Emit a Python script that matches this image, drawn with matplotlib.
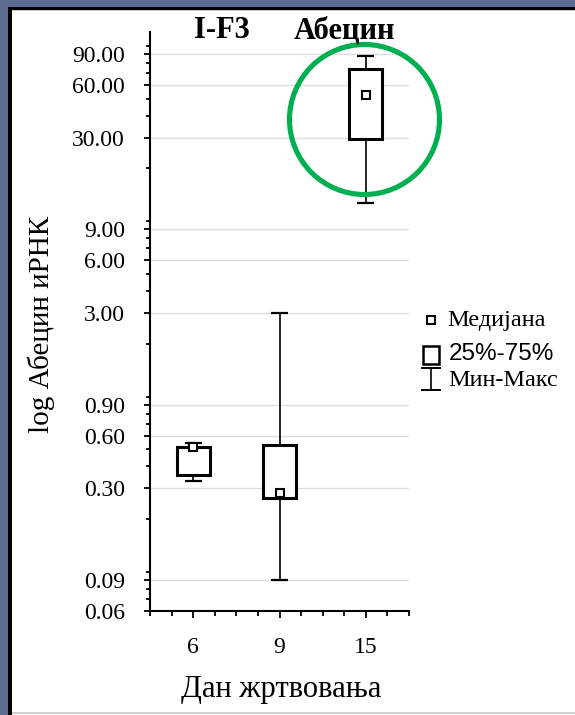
import matplotlib
matplotlib.use("Agg")
import matplotlib.pyplot as plt
from matplotlib.patches import Rectangle
from matplotlib.lines import Line2D
from matplotlib.ticker import FixedLocator, NullFormatter

# ---- data -------------------------------------------------------------
days = ["6", "9", "15"]
q_min = [0.33, 0.09, 12.7]
q25 = [0.36, 0.266, 29.4]
median = [0.515, 0.283, 52.5]
q75 = [0.52, 0.527, 74.0]
q_max = [0.546, 3.0, 88.0]

y_major = [0.06, 0.09, 0.3, 0.6, 0.9, 3, 6, 9, 30, 60, 90]
y_major_labels = ["0.06", "0.09", "0.30", "0.60", "0.90", "3.00", "6.00",
                  "9.00", "30.00", "60.00", "90.00"]
y_minor = [0.07, 0.08, 0.1, 0.2, 0.4, 0.5, 0.7, 0.8, 1, 2, 4, 5, 7, 8,
           10, 20, 40, 50, 70, 80, 100]

highlight_day = "15"
highlight_value = 38.5

# ---- figure -----------------------------------------------------------
W, H = 575, 715
DPI = 100
fig = plt.figure(figsize=(W / DPI, H / DPI), dpi=DPI)
fig.patch.set_facecolor("white")

SERIF = ["Liberation Serif", "DejaVu Serif"]
SANS = ["Liberation Sans", "DejaVu Sans"]
plt.rcParams["font.family"] = SERIF


def fx(x):
    return x / W


def fy(y):
    return 1 - y / H


# slide frame around the chart
frame = [
    ((0, 0), 8, H, "#5b6b91"),
    ((0, 0), W, 7, "#5b6b91"),
    ((8, 7), 4, H - 7, "black"),
    ((8, 7), W - 8, 3, "black"),
    ((12, 10), W - 12, 1.2, "#c8c8c8"),
    ((12, 712), W - 12, 1.5, "#d0d0d0"),
]
for (x0, y0), w, h, c in frame:
    fig.add_artist(Rectangle((fx(x0), fy(y0 + h)), w / W, h / H,
                             transform=fig.transFigure, facecolor=c,
                             edgecolor="none", zorder=0))

left, right, top, bottom = 150, 409, 32, 611
ax = fig.add_axes([fx(left), fy(bottom), (right - left) / W, (bottom - top) / H])
ax.set_facecolor("none")

ax.set_yscale("log")
ax.set_ylim(0.06, 120)
ax.set_xlim(-0.5, 2.5)

pos = list(range(len(days)))

# grid at labelled values
for v in y_major:
    ax.axhline(v, color="#dedede", lw=1.0, zorder=0)

box_w = 0.38
cap_w = 0.2
for i in pos:
    ax.bar(i, q75[i] - q25[i], bottom=q25[i], width=box_w, facecolor="white",
           edgecolor="black", linewidth=2.2, zorder=3)
    ax.vlines(i, q75[i], q_max[i], color="black", lw=1.2, zorder=2)
    ax.vlines(i, q_min[i], q25[i], color="black", lw=1.2, zorder=2)
    ax.hlines([q_min[i], q_max[i]], i - cap_w / 2, i + cap_w / 2,
              color="black", lw=1.6, zorder=2)
    ax.plot(i, median[i], marker="s", ms=6, mfc="white", mec="black",
            mew=1.5, zorder=4)

# highlight ring
hi = days.index(highlight_day)
ax.plot(hi - 0.02, highlight_value, marker="o", ms=108, mfc="none",
        mec="#00b050", mew=3.7, clip_on=False, zorder=5)

# axes styling
for s in ["top", "right"]:
    ax.spines[s].set_visible(False)
for s in ["left", "bottom"]:
    ax.spines[s].set_linewidth(1.5)

ax.yaxis.set_major_locator(FixedLocator(y_major))
ax.set_yticklabels(y_major_labels)
ax.yaxis.set_minor_locator(FixedLocator(y_minor))
ax.yaxis.set_minor_formatter(NullFormatter())
ax.tick_params(axis="y", which="major", length=4, width=1.3, pad=14,
               labelsize=17)
ax.tick_params(axis="y", which="minor", length=3, width=1.3)

ax.set_xticks(pos)
ax.set_xticklabels(days)
ax.set_xticks([p / 4 - 0.5 for p in range(13) if (p - 2) % 4 != 0], minor=True)
ax.tick_params(axis="x", which="major", length=5, width=1.3, pad=14,
               labelsize=17)
ax.tick_params(axis="x", which="minor", length=3.5, width=1.3)

# titles and axis labels
fig.text(fx(222), fy(31), "I-F3", ha="center", va="center",
         fontsize=22, fontweight="bold", family=SERIF)
fig.text(fx(344), fy(31), "Абецин", ha="center", va="center",
         fontsize=22, fontweight="bold", family=SERIF)
fig.text(fx(41), fy(324), "log Абецин иРНК", rotation=90, ha="center",
         va="center", fontsize=21, family=SERIF)
fig.text(fx(281), fy(690), "Дан жртвовања", ha="center", va="center",
         fontsize=22, family=SERIF)

# legend
fig.add_artist(Line2D([fx(431)], [fy(320)], marker="s", ms=5.5, mfc="white",
                      mec="black", mew=1.4, transform=fig.transFigure))
fig.text(fx(447), fy(321), "Медијана", ha="left", va="center",
         fontsize=17.5, family=SERIF)

fig.add_artist(Rectangle((fx(423), fy(364)), 16 / W, 18 / H,
                         transform=fig.transFigure, facecolor="white",
                         edgecolor="black", lw=1.8))
fig.text(fx(449), fy(354), "25%-75%", ha="left", va="center",
         fontsize=17.5, family=SANS)

fig.add_artist(Line2D([fx(431), fx(431)], [fy(368), fy(390)], color="black",
                      lw=1.2, transform=fig.transFigure))
for yy in (368, 390):
    fig.add_artist(Line2D([fx(422), fx(440)], [fy(yy), fy(yy)], color="black",
                          lw=1.4, transform=fig.transFigure))
fig.text(fx(448), fy(381), "Мин-Макс", ha="left", va="center",
         fontsize=17.5, family=SERIF)

fig.savefig("out.png", dpi=DPI)
